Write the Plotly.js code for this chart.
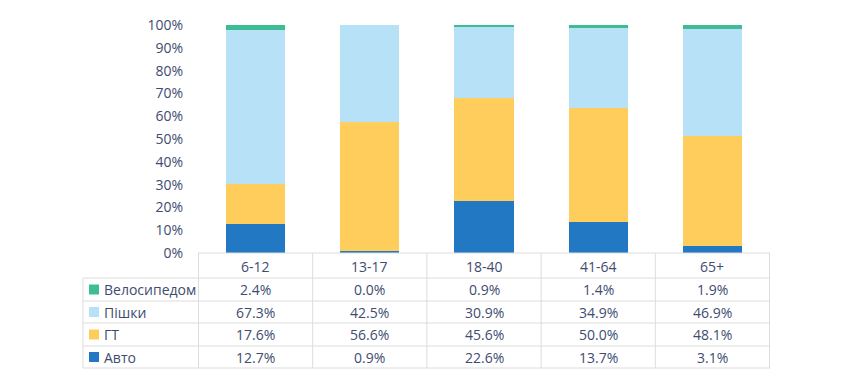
<!DOCTYPE html>
<html><head><meta charset="utf-8">
<script src="https://cdn.plot.ly/plotly-3.0.1.min.js"></script>
<style>html,body{margin:0;padding:0;background:#fff;}#chart{width:859px;height:384px;}</style>
</head><body><div id="chart"></div>
<script>
const categories = ['6-12','13-17','18-40','41-64','65+'];
const seriesNames = ['Авто','ГТ','Пішки','Велосипедом'];
const avto = [12.7, 0.9, 22.6, 13.7, 3.1];
const gt = [17.6, 56.6, 45.6, 50.0, 48.1];
const pishky = [67.3, 42.5, 30.9, 34.9, 46.9];
const velo = [2.4, 0.0, 0.9, 1.4, 1.9];
const colors = ['#2278c2','#fecd5c','#b6e1f6','#3dbd94'];
const yTicks = [0,10,20,30,40,50,60,70,80,90,100];

const allSeries = [avto, gt, pishky, velo];
const W = 859, H = 384;
const mL = 198, mR = 89, mT = 25, mB = 131;
const plotW = W - mL - mR, plotH = H - mT - mB;
const px2x = p => (p - mL) / plotW;
const py2y = p => (H - mB - p) / plotH;
const textColor = '#3e4c70';
const fontFam = '"Open Sans", "Noto Sans", sans-serif';

const traces = allSeries.map((vals, i) => ({
  type: 'bar', name: seriesNames[i], x: categories,
  y: vals.map(v => v / 100), marker: {color: colors[i], line: {width: 0}},
  hoverinfo: 'skip'
}));

const rowEdges = [253, 278, 301, 323, 346, 368];
const gridColor = '#dcdcdc';
const shapes = [];
const annotations = [];
shapes.push({type:'line', xref:'paper', yref:'paper', x0:0, x1:1, y0:py2y(rowEdges[0]), y1:py2y(rowEdges[0]), line:{color:gridColor,width:1}});
for (let r = 1; r < rowEdges.length; r++) {
  shapes.push({type:'line', xref:'paper', yref:'paper', x0:px2x(83), x1:1, y0:py2y(rowEdges[r]), y1:py2y(rowEdges[r]), line:{color:gridColor,width:1}});
}
for (let i = 0; i <= categories.length; i++) {
  shapes.push({type:'line', xref:'x', yref:'paper', x0:i-0.5, x1:i-0.5, y0:py2y(rowEdges[0]), y1:py2y(rowEdges[5]), line:{color:gridColor,width:1}});
}
shapes.push({type:'line', xref:'paper', yref:'paper', x0:px2x(83), x1:px2x(83), y0:py2y(rowEdges[1]), y1:py2y(rowEdges[5]), line:{color:gridColor,width:1}});

categories.forEach((c, i) => {
  annotations.push({xref:'x', yref:'paper', x:i, y:py2y((rowEdges[0]+rowEdges[1])/2 + 1), text:c, showarrow:false, xanchor:'center', yanchor:'middle', font:{family:fontFam,size:14,color:textColor}});
});
const order = [3,2,1,0];
order.forEach((si, r) => {
  const cy = (rowEdges[r+1] + rowEdges[r+2]) / 2;
  shapes.push({type:'rect', xref:'paper', yref:'paper', x0:px2x(89), x1:px2x(99), y0:py2y(cy+5), y1:py2y(cy-5), fillcolor:colors[si], line:{width:0}});
  annotations.push({xref:'paper', yref:'paper', x:px2x(102), y:py2y(cy), text:seriesNames[si], showarrow:false, xanchor:'left', yanchor:'middle', font:{family:fontFam,size:14,color:textColor}});
  allSeries[si].forEach((v, i) => {
    annotations.push({xref:'x', yref:'paper', x:i, y:py2y(cy), text:v.toFixed(1)+'%', showarrow:false, xanchor:'center', yanchor:'middle', font:{family:fontFam,size:14,color:textColor}});
  });
});

const layout = {
  width: W, height: H,
  margin: {l: mL, r: mR, t: mT, b: mB, pad: 0},
  paper_bgcolor: '#fff', plot_bgcolor: '#fff',
  barmode: 'stack', bargap: 0.48,
  showlegend: false,
  xaxis: {showticklabels: false, showgrid: false, zeroline: false, showline: false, ticks: ''},
  yaxis: {range: [0, 1], tickvals: yTicks.map(v => v/100), ticktext: yTicks.map(v => v + '%'),
    showgrid: false, zeroline: false, showline: false, ticks: '', ticklabelstandoff: 14,
    tickfont: {family: fontFam, size: 14, color: textColor}},
  shapes: shapes, annotations: annotations
};
Plotly.newPlot('chart', traces, layout, {staticPlot: true, displayModeBar: false});
</script></body></html>
